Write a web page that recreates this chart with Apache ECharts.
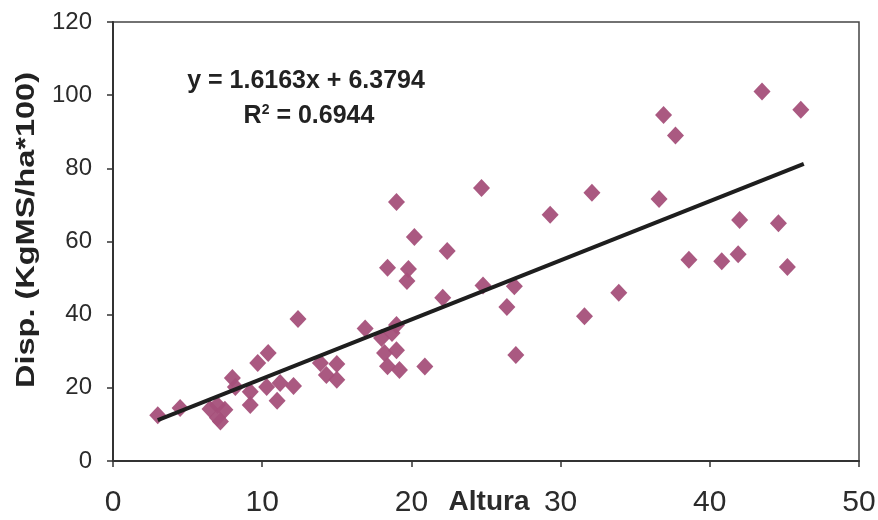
<!DOCTYPE html>
<html>
<head>
<meta charset="utf-8">
<script src="https://cdn.jsdelivr.net/npm/echarts@6/dist/echarts.min.js"></script>
<style>
html, body { margin: 0; padding: 0; background: #fff; }
#chart { width: 878px; height: 520px; }
</style>
</head>
<body>
<div id="chart"></div>
<script>
// Altura (x) vs Disp. (y)
var alturaDisp = [
	[3.0, 12.5], [4.5, 14.5], [6.5, 14.2], [7.0, 15.3], [7.0, 11.8], [7.5, 14.0], [7.2, 10.8],
	[8.0, 22.7], [8.2, 20.2], [9.2, 18.9], [9.2, 15.3], [9.7, 26.8], [10.4, 29.5], [10.3, 20.2],
	[11.0, 16.5], [11.2, 21.3], [12.1, 20.5], [12.4, 38.8], [13.9, 26.8], [14.3, 23.5], [15.0, 26.5],
	[15.0, 22.2], [16.9, 36.2], [18.0, 33.6], [18.7, 35.0], [19.0, 37.2], [18.2, 29.5], [19.0, 30.3],
	[18.4, 25.9], [19.2, 24.9], [18.4, 52.8], [19.0, 70.8], [19.7, 49.2], [19.8, 52.5], [20.2, 61.2],
	[20.9, 25.8], [22.1, 44.6], [22.4, 57.4], [24.7, 74.6], [24.8, 48.0], [26.4, 42.1], [26.9, 47.8],
	[27.0, 29.0], [29.3, 67.3], [31.6, 39.6], [32.1, 73.3], [33.9, 46.0], [36.6, 71.6], [36.9, 94.6],
	[37.7, 89.0], [38.6, 55.0], [40.8, 54.6], [41.9, 56.5], [42.0, 65.9], [43.5, 101.0], [44.6, 65.0],
	[45.2, 53.0], [46.1, 96.0]
];
// trend line ends
var trendLine = [[3.0, 11.2], [46.3, 81.2]];
var xTicks = [0, 10, 20, 30, 40, 50];
var yTicks = [0, 20, 40, 60, 80, 100, 120];

var myChart = echarts.init(document.getElementById('chart'));
var option = {
	backgroundColor: '#fff',
	animation: false,
	grid: {
		left: 113, right: 19, top: 22, bottom: 59,
		outerBoundsMode: 'none',
		show: true,
		borderColor: '#444',
		borderWidth: 1.5
	},
	xAxis: {
		type: 'value',
		min: xTicks[0], max: xTicks[xTicks.length - 1], interval: 10,
		name: 'Altura',
		nameLocation: 'middle',
		nameGap: 27,
		nameMoveOverlap: false,
		nameTextStyle: {
			fontFamily: 'Liberation Sans',
			fontWeight: 'bold', fontSize: 28, color: '#2b2b2b', padding: [0, 0, 0, 6]
		},
		axisLine: { lineStyle: { color: '#333', width: 2 } },
		axisTick: { show: true, inside: false, length: 6, lineStyle: { color: '#333', width: 1.5 } },
		axisLabel: { margin: 27, fontSize: 30, fontFamily: 'Liberation Sans', color: '#2b2b2b' },
		splitLine: { show: false }
	},
	yAxis: {
		type: 'value',
		min: yTicks[0], max: yTicks[yTicks.length - 1], interval: 20,
		axisLine: { show: true, lineStyle: { color: '#333', width: 2 } },
		axisTick: { show: true, inside: false, length: 6, lineStyle: { color: '#333', width: 1.5 } },
		axisLabel: { margin: 21, fontSize: 24, fontFamily: 'Liberation Sans', color: '#2b2b2b' },
		splitLine: { show: false }
	},
	graphic: [
		{
			type: 'text', x: 27, y: 230, rotation: Math.PI / 2, scaleX: 1.3,
			style: {
				text: 'Disp. (KgMS/ha*100)',
				font: 'bold 25px Liberation Sans',
				fill: '#222', align: 'center', verticalAlign: 'middle'
			}
		},
		{
			type: 'text', x: 306, y: 81,
			style: {
				text: 'y = 1.6163x + 6.3794',
				font: 'bold 25px Liberation Sans',
				fill: '#222', align: 'center', verticalAlign: 'middle'
			}
		},
		{
			type: 'text', x: 309, y: 116,
			style: {
				text: 'R{sup|2} = 0.6944',
				font: 'bold 25px Liberation Sans',
				rich: { sup: { font: 'bold 14px Liberation Sans', verticalAlign: 'top', padding: [0, 0, 12, 0] } },
				fill: '#222', align: 'center', verticalAlign: 'middle'
			}
		}
	],
	series: [
		{
			type: 'line',
			data: trendLine,
			symbol: 'none',
			lineStyle: { color: '#1e1e1e', width: 4 },
			z: 3
		},
		{
			type: 'scatter',
			data: alturaDisp,
			symbol: 'diamond',
			symbolSize: [17, 18],
			itemStyle: { color: '#a5507a', opacity: 0.95 },
			z: 2
		}
	]
};
myChart.setOption(option);
</script>
</body>
</html>
